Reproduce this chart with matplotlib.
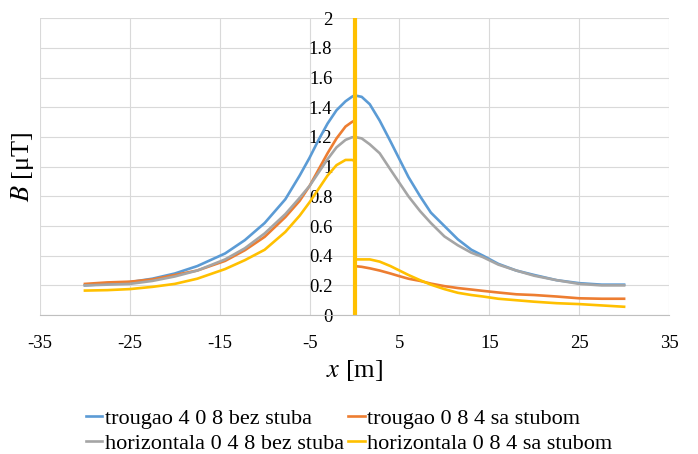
import matplotlib
matplotlib.use('Agg')
import matplotlib.pyplot as plt

plt.rcParams['font.family'] = 'serif'
plt.rcParams['font.serif'] = ['Liberation Serif', 'DejaVu Serif']
plt.rcParams['mathtext.fontset'] = 'stix'

# series
x_left = [-30, -27.5, -25, -22.5, -20, -17.5, -14.4, -12.2, -10, -7.7, -6.1, -5, -4, -3, -2, -1, -0.3, 0]
x_right = [0, 0.8, 1.7, 2.8, 4, 5, 6, 7.3, 8.5, 10, 11.5, 13, 14.3, 16, 18, 20, 22.5, 25, 27.5, 30]

blue_left = [0.20, 0.21, 0.222, 0.245, 0.28, 0.33, 0.415, 0.505, 0.62, 0.78, 0.94, 1.06, 1.18, 1.29, 1.38, 1.44, 1.47, 1.48]
blue_right = [1.48, 1.47, 1.42, 1.31, 1.17, 1.05, 0.93, 0.80, 0.69, 0.60, 0.51, 0.44, 0.40, 0.345, 0.30, 0.27, 0.235, 0.215, 0.205, 0.205]

gray_left = [0.20, 0.205, 0.21, 0.23, 0.26, 0.30, 0.375, 0.45, 0.55, 0.68, 0.79, 0.87, 0.96, 1.05, 1.13, 1.18, 1.197, 1.20]
gray_right = [1.20, 1.19, 1.15, 1.09, 0.98, 0.89, 0.80, 0.70, 0.62, 0.53, 0.47, 0.42, 0.39, 0.34, 0.30, 0.265, 0.235, 0.21, 0.20, 0.20]

orange_left = [0.21, 0.22, 0.225, 0.24, 0.27, 0.30, 0.365, 0.437, 0.527, 0.66, 0.77, 0.87, 0.98, 1.09, 1.19, 1.27, 1.30, 1.31]
orange_right = [0.33, 0.325, 0.315, 0.30, 0.28, 0.262, 0.245, 0.23, 0.212, 0.195, 0.182, 0.172, 0.163, 0.152, 0.14, 0.135, 0.125, 0.113, 0.11, 0.11]

yellow_left = [0.165, 0.168, 0.175, 0.19, 0.21, 0.245, 0.31, 0.37, 0.44, 0.56, 0.67, 0.76, 0.85, 0.94, 1.01, 1.045, 1.045, 1.04]
yellow_right = [0.375, 0.375, 0.375, 0.36, 0.33, 0.30, 0.27, 0.235, 0.205, 0.175, 0.15, 0.135, 0.125, 0.11, 0.10, 0.09, 0.08, 0.074, 0.065, 0.056]
# the yellow series jumps through the whole range at x = 0
jump_x = [0, 0]
jump_y = [0.0, 2.1]

names = ['trougao 4 0 8 bez stuba', 'trougao 0 8 4 sa stubom',
         'horizontala 0 4 8 bez stuba', 'horizontala 0 8 4 sa stubom']
colors = ['#5B9BD5', '#ED7D31', '#A5A5A5', '#FFC000']

x_ticks = [-35, -25, -15, -5, 5, 15, 25, 35]
y_ticks = [0, 0.2, 0.4, 0.6, 0.8, 1, 1.2, 1.4, 1.6, 1.8, 2]
y_labels = ['0', '0.2', '0.4', '0.6', '0.8', '1', '1.2', '1.4', '1.6', '1.8', '2']

fig = plt.figure(figsize=(6.98, 4.54), dpi=100)
ax = fig.add_axes([0.0573, 0.306, 0.9012, 0.654])

lw = 1.9
l_blue, = ax.plot(x_left + x_right, blue_left + blue_right, color=colors[0], lw=lw, label=names[0])
l_orange, = ax.plot(x_left + x_right, orange_left + orange_right, color=colors[1], lw=lw, label=names[1])
l_gray, = ax.plot(x_left + x_right, gray_left + gray_right, color=colors[2], lw=lw, label=names[2])
l_yellow, = ax.plot(x_left + x_right, yellow_left + yellow_right, color=colors[3], lw=lw, label=names[3])
ax.plot(jump_x, jump_y, color=colors[3], lw=3)

ax.set_xlim(-35, 35)
ax.set_ylim(0, 2)
ax.set_xticks(x_ticks)
ax.set_yticks(y_ticks)
ax.set_xticklabels([str(t) for t in x_ticks])
ax.set_yticklabels(y_labels)
ax.grid(True, color='#D9D9D9', lw=0.8)
ax.set_axisbelow(True)

for s in ['top', 'right']:
    ax.spines[s].set_visible(False)
ax.spines['left'].set_position(('data', 0))
ax.spines['left'].set_visible(False)
ax.spines['bottom'].set_color('#BFBFBF')
ax.tick_params(axis='both', length=0, labelsize=13.5)
ax.tick_params(axis='x', pad=14)
ax.tick_params(axis='y', pad=16)

ax.set_xlabel('$x$ [m]', fontsize=19, labelpad=5)
ax.set_ylabel('$B$ [μT]', fontsize=19)
ax.yaxis.set_label_coords(-0.006, 0.5)

fig.legend(handles=[l_blue, l_gray, l_orange, l_yellow], ncol=2, loc='center',
           bbox_to_anchor=(0.5, 0.05), frameon=False, fontsize=16,
           handlelength=0.75, handletextpad=0.1, columnspacing=0.2, labelspacing=0.2,
           borderpad=0.2)

fig.savefig('out.png', dpi=100)
